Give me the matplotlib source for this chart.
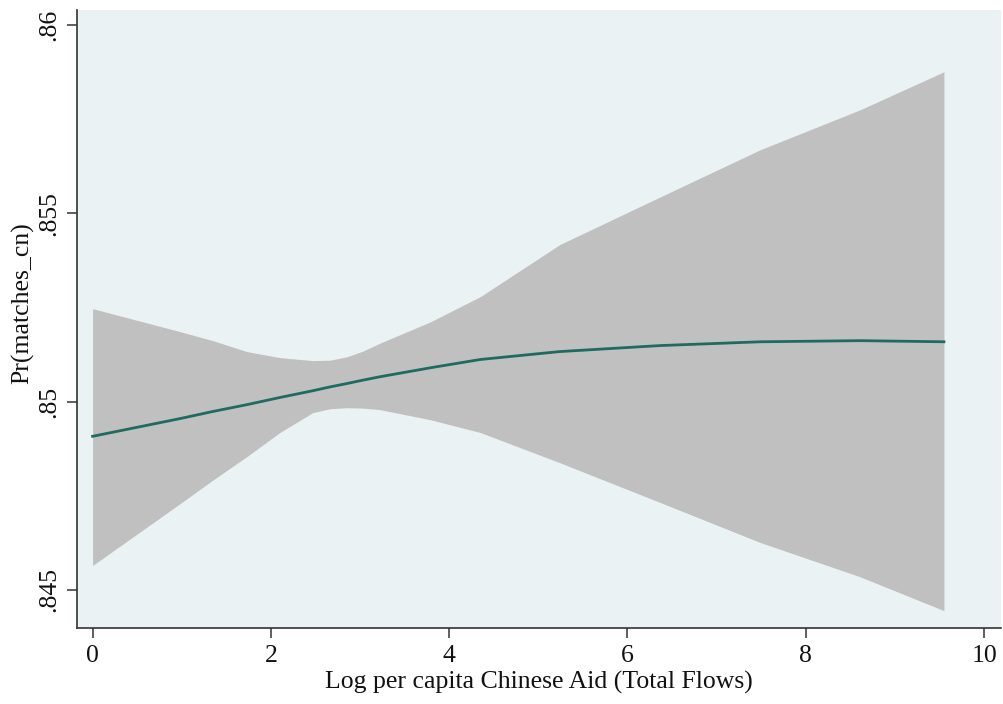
import matplotlib
matplotlib.use("Agg")
import matplotlib.pyplot as plt

# Data
x_vals = [0.0, 0.98, 1.35, 1.73, 2.10, 2.47, 2.66, 2.85, 3.03, 3.22, 3.79, 4.35, 5.24, 6.37, 7.49, 8.61, 9.55]
pred   = [0.84908, 0.84955, 0.84974, 0.84992, 0.85011, 0.85029, 0.85039, 0.85048, 0.85057, 0.85066,
          0.85090, 0.85112, 0.85133, 0.85149, 0.85159, 0.85162, 0.85159]
upper  = [0.85247, 0.85186, 0.85162, 0.85133, 0.85117, 0.85109, 0.85110, 0.85119, 0.85134, 0.85155,
          0.85212, 0.85279, 0.85417, 0.85544, 0.85669, 0.85775, 0.85876]
lower  = [0.84565, 0.84729, 0.84792, 0.84854, 0.84918, 0.84971, 0.84981, 0.84984, 0.84983, 0.84979,
          0.84952, 0.84918, 0.84838, 0.84732, 0.84626, 0.84535, 0.84445]

x_ticks = [0, 2, 4, 6, 8, 10]
y_ticks = [0.845, 0.85, 0.855, 0.86]
y_tick_labels = [".845", ".85", ".855", ".86"]

plt.rcParams['font.family'] = ['Liberation Serif', 'DejaVu Serif']

fig = plt.figure(figsize=(10.04, 7.04), dpi=100)
fig.patch.set_facecolor('white')
ax = fig.add_axes([77/1004, 1 - 628/704, (1001 - 77)/1004, (628 - 10)/704])
ax.set_facecolor('#EAF2F3')

ax.fill_between(x_vals, lower, upper, color='#C0C0C0', linewidth=0, zorder=1)
ax.plot(x_vals, pred, color='#1F6B5F', linewidth=2.0, zorder=2,
        solid_joinstyle='round')

ax.set_xlim(-0.175, 10.19)
ax.set_ylim(0.84399, 0.8604)

ax.set_xticks(x_ticks)
ax.set_xticklabels([str(t) for t in x_ticks])
ax.set_yticks(y_ticks)
ax.set_yticklabels(y_tick_labels, rotation=90, va='center')

for s in ['top', 'right']:
    ax.spines[s].set_visible(False)
for s in ['left', 'bottom']:
    ax.spines[s].set_color('#333333')
    ax.spines[s].set_linewidth(1.2)

ax.tick_params(axis='both', length=7, width=1.1, color='#333333',
               labelsize=18.5, labelcolor='#111111', pad=5)

ax.set_xlabel('Log per capita Chinese Aid (Total Flows)', fontsize=18.5,
              color='#111111', labelpad=3)
ax.set_ylabel('Pr(matches_cn)', fontsize=18.5, color='#111111')
ax.yaxis.set_label_coords(-0.046, 0.526)

fig.savefig('out.png', dpi=100, facecolor='white')
